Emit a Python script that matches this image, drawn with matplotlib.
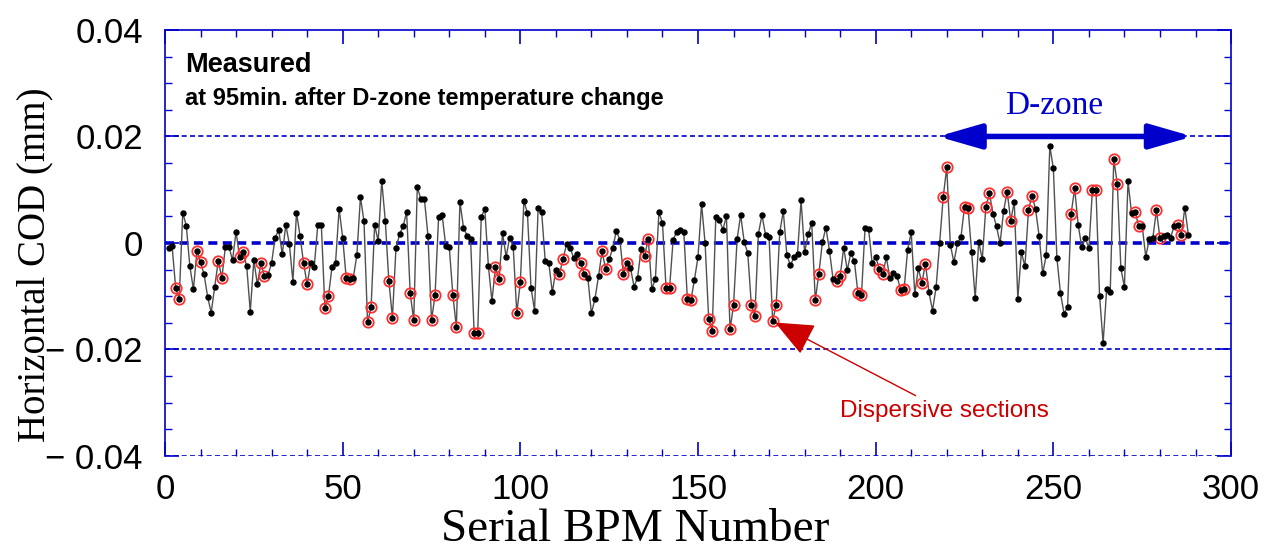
import numpy as np
import matplotlib
matplotlib.use("Agg")
import matplotlib.pyplot as plt
from matplotlib.ticker import MultipleLocator, FixedLocator

# horizontal COD (mm), BPM 1..288
cod_milli = [
    -0.9, -0.6, -8.4, -10.5, 5.7, 3.2, -4.4, -8.7, -1.5, -3.6,
    -5.9, -10.1, -13.1, -8.2, -3.3, -6.6, -0.7, -0.7, -3.25, 2.1,
    -2.7, -1.75, -4.4, -12.9, -3.25, -7.8, -3.75, -6.25, -6.0, -3.75,
    1.0, 2.4, -2.1, 3.4, -0.2, -7.25, 5.7, 1.4, -3.8, -7.8,
    -3.75, -4.5, 3.4, 3.3, -12.2, -10.0, -4.5, -3.7, 6.4, 1.0,
    -6.6, -6.75, -6.5, -2.25, 8.6, 4.1, -14.9, -12.1, 3.4, 0.3,
    11.7, 4.1, -7.2, -14.0, -1.0, 1.6, 3.1, 5.8, -9.4, -14.5,
    10.5, 8.25, 8.25, 1.4, -14.5, -9.8, 4.9, 5.2, -0.5, -0.75,
    -9.7, -15.8, 7.75, 2.9, 1.4, 0.75, -16.9, -16.9, 4.9, 6.4,
    -4.25, -10.9, -4.6, -6.8, 1.8, -2.6, 1.0, -0.8, -13.2, -7.4,
    7.9, 5.6, -8.4, -12.7, 6.5, 5.8, -3.4, -3.7, -9.3, -5.0,
    -5.8, -3.1, -0.25, -0.9, -2.8, -2.0, -3.7, -5.9, -6.6, -13.2,
    -10.5, -6.25, -1.6, -4.9, -3.1, -1.0, 2.25, 0.6, -5.8, -3.8,
    -4.7, -8.2, -6.5, -1.1, -2.4, 0.8, -8.6, -6.8, 5.8, 3.7,
    -8.4, -8.4, 0.6, 2.1, 2.5, 2.1, -10.5, -10.75, -6.9, -2.6,
    7.3, -0.1, -14.25, -16.5, 4.9, 4.4, 2.5, 5.0, -16.25, -11.7,
    0.75, 5.25, 0.2, -1.9, -11.6, -13.7, 1.75, 5.25, 1.5, 1.1,
    -14.7, -11.6, 2.0, 6.0, -2.25, -4.2, -2.7, -2.0, 8.0, -1.75,
    1.6, 3.8, -10.75, -5.8, 0.15, 2.9, -1.5, -6.8, -7.1, -6.25,
    -0.9, -5.1, -1.9, -3.4, -9.4, -9.8, 2.8, 2.7, -3.8, -2.6,
    -4.9, -5.8, -2.7, -6.6, -5.7, -6.2, -8.8, -8.6, -1.25, 2.0,
    -9.6, -4.75, -7.5, -3.9, -9.3, -12.7, -8.3, 0.0, 8.6, 14.25,
    -0.3, -3.6, -0.1, 1.1, 6.8, 6.5, -1.75, -10.4, 0.2, -3.1,
    6.75, 9.3, 5.5, 3.1, -0.1, 6.0, 9.6, 4.2, 7.75, -10.5,
    -1.75, -4.4, 6.2, 8.9, 6.3, 1.25, -5.7, -2.3, 18.2, 14.0,
    -2.9, -9.4, -13.25, -12.1, 5.5, 10.25, 3.3, -0.75, 0.9, -1.0,
    10.0, 9.9, -9.9, -18.75, -8.7, -9.3, 15.7, 11.1, -4.75, -8.3,
    11.6, 5.6, 5.9, 3.2, 3.2, -2.6, 0.7, 1.0, 6.1, 0.9,
    1.4, 1.5, 1.0, 3.2, 3.4, 1.5, 6.6, 1.5,
]
bpm = np.arange(1, len(cod_milli) + 1)
cod = np.array(cod_milli) * 1e-3

# BPMs in dispersive sections (circled in red)
dispersive_bpm = [
    3, 4, 9, 10, 15, 16, 21, 22, 27, 28,
    39, 40, 45, 46, 51, 52, 57, 58, 63, 64, 69, 70, 75, 76, 81, 82, 87, 88, 93, 94, 99, 100,
    111, 112, 117, 118, 123, 124, 129, 130, 135, 136, 141, 142, 147, 148, 153, 154,
    159, 160, 165, 166, 171, 172,
    183, 184, 189, 190, 195, 196, 201, 202, 207, 208, 213, 214, 219, 220, 225, 226,
    231, 232, 237, 238, 243, 244,
    255, 256, 261, 262, 267, 268, 273, 274, 279, 280, 285, 286,
]
dzone_start, dzone_end = 217.5, 289.2
y_ticks = [-0.04, -0.02, 0.0, 0.02, 0.04]
y_tick_labels = ["\u2212 0.04", "\u2212 0.02", "0", "0.02", "0.04"]

BLUE = "#0000cc"
SANS = "Liberation Sans"
SERIF = "Liberation Serif"

fig = plt.figure(figsize=(12.79, 5.52), dpi=100)
ax = fig.add_axes([0.129, 0.174, 0.8335, 0.7717])

# reference lines
for level in (0.02, -0.02, -0.04):
    ax.axhline(level, color=BLUE, linewidth=1.2, linestyle=(0, (3, 2)), zorder=1)
ax.axhline(0.0, color=BLUE, linewidth=2.6, linestyle=(0, (2.5, 1.5)), zorder=1)

ax.plot(bpm, cod, color="#505050", linewidth=1.0, zorder=2)
ax.plot(bpm, cod, linestyle="none", marker="o", markersize=3.6,
        color="black", zorder=4)
sel = np.array(dispersive_bpm) - 1
ax.plot(bpm[sel], cod[sel], linestyle="none", marker="o", markersize=7.5,
        markerfacecolor="none", markeredgecolor="#ff3030", markeredgewidth=1.3,
        zorder=3)

ax.set_xlim(0, 300)
ax.set_ylim(-0.04, 0.04)
ax.xaxis.set_major_locator(MultipleLocator(50))
ax.xaxis.set_minor_locator(MultipleLocator(10))
ax.yaxis.set_major_locator(FixedLocator(y_ticks))
ax.yaxis.set_minor_locator(MultipleLocator(0.005))
ax.set_yticklabels(y_tick_labels)
ax.tick_params(which="both", direction="in", color=BLUE, top=True, right=True,
               labelsize=25)
ax.tick_params(which="major", length=10, width=1.2)
ax.tick_params(which="minor", length=5, width=1.0)
ax.tick_params(axis="y", pad=16)
ax.tick_params(axis="x", pad=12)
for lab in ax.get_xticklabels() + ax.get_yticklabels():
    lab.set_fontfamily(SANS)

for side in ("left", "right", "top"):
    ax.spines[side].set_color(BLUE)
    ax.spines[side].set_linewidth(1.2)
ax.spines["bottom"].set_visible(False)

ax.set_xlabel("Serial BPM Number", fontfamily=SERIF, fontsize=34)
ax.xaxis.set_label_coords(0.441, -0.174)
ax.set_ylabel("Horizontal COD (mm)", fontfamily=SERIF, fontsize=28)
ax.yaxis.set_label_coords(-0.122, 0.448)
ax.xaxis.label.set_va("center")
ax.yaxis.label.set_va("center")

ax.text(0.019, 0.918, "Measured", transform=ax.transAxes, fontfamily=SANS,
        fontweight="bold", fontsize=19.5, va="center", ha="left")
ax.text(0.019, 0.840, "at 95min. after D-zone temperature change",
        transform=ax.transAxes, fontfamily=SANS, fontweight="bold",
        fontsize=17, va="center", ha="left")

# D-zone span arrow
ax.annotate("", xy=(dzone_end, 0.02), xytext=(dzone_start, 0.02),
            arrowprops=dict(arrowstyle="<|-|>,head_length=2.6,head_width=0.75",
                            color=BLUE, linewidth=4, shrinkA=0, shrinkB=0),
            zorder=5)
ax.text(250.2, 0.0258, "D-zone", color=BLUE,
        fontfamily=SERIF, fontsize=24, ha="center", va="center")

# dispersive section pointer
ax.annotate("Dispersive sections", xy=(171, -0.0147), xytext=(190, -0.0315),
            color="#cc0000", fontfamily=SANS, fontsize=17.5, va="center",
            ha="left",
            arrowprops=dict(arrowstyle="-|>,head_length=1.4,head_width=0.6",
                            color="#cc0000", linewidth=1.0, shrinkA=2, shrinkB=2))

fig.savefig("out.png", dpi=100)
